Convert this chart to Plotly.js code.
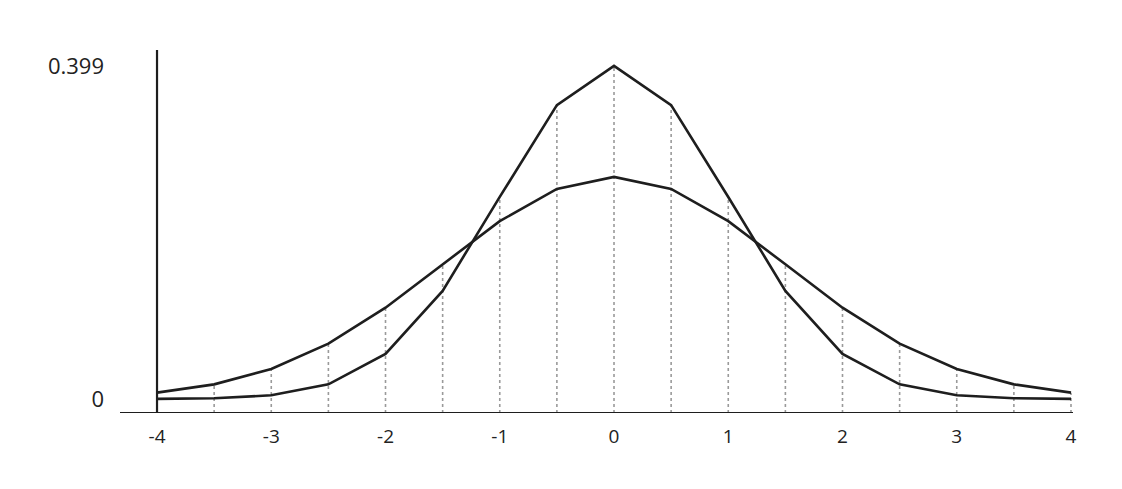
<!DOCTYPE html>
<html>
<head>
<meta charset="utf-8">
<script src="https://cdn.plot.ly/plotly-3.0.1.min.js"></script>
<style>html,body{margin:0;padding:0;background:#fff;}#chart{width:1122px;height:489px;}</style>
</head>
<body>
<div id="chart"></div>
<script>
// x positions (half-unit steps)
const xValues = [-4, -3.5, -3, -2.5, -2, -1.5, -1, -0.5, 0, 0.5, 1, 1.5, 2, 2.5, 3, 3.5, 4];
// narrow curve (peak 0.399)
const narrowValues = [0.0001, 0.0009, 0.0044, 0.0175, 0.054, 0.1295, 0.242, 0.352, 0.399, 0.352, 0.242, 0.1295, 0.054, 0.0175, 0.0044, 0.0009, 0.0001];
// wide curve
const wideValues = [0.0076, 0.0175, 0.036, 0.0663, 0.1093, 0.1613, 0.213, 0.2516, 0.266, 0.2516, 0.213, 0.1613, 0.1093, 0.0663, 0.036, 0.0175, 0.0076];
const xTickVals = [-4, -3, -2, -1, 0, 1, 2, 3, 4];
const xTickText = ['-4', '-3', '-2', '-1', '0', '1', '2', '3', '4'];
const yTickVals = [0, 0.399];
const yTickText = ['0', '0.399'];

const yMin = -0.0168, yMax = 0.418;

// dotted guides from the axis up to the higher of the two curves
const gx = [], gy = [];
xValues.forEach((x, i) => {
  gx.push(x, x, null);
  gy.push(yMin, Math.max(narrowValues[i], wideValues[i]), null);
});

const traces = [
  {x: gx, y: gy, mode: 'lines', line: {color: '#9a9a9a', width: 1.6, dash: 'dot'}, hoverinfo: 'skip', showlegend: false},
  {x: xValues, y: wideValues, mode: 'lines', line: {color: '#1e1e1e', width: 2.6}, showlegend: false},
  {x: xValues, y: narrowValues, mode: 'lines', line: {color: '#1e1e1e', width: 2.6}, showlegend: false}
];

const layout = {
  width: 1122, height: 489,
  margin: {l: 120, r: 49, t: 50, b: 76},
  paper_bgcolor: '#fff', plot_bgcolor: '#fff',
  font: {family: 'Open Sans, sans-serif', size: 18, color: '#222'},
  xaxis: {
    range: [-4.324, 4.0175], showgrid: false, zeroline: false, showline: false,
    tickvals: xTickVals, ticktext: xTickText, ticks: '', ticklabelstandoff: 10,
    tickfont: {family: 'Open Sans, sans-serif', size: 19, color: '#222'}
  },
  yaxis: {
    range: [yMin, yMax], showgrid: false, zeroline: false, showline: false,
    tickvals: yTickVals, ticktext: yTickText, ticks: '', ticklabelstandoff: 15,
    tickfont: {family: 'Open Sans, sans-serif', size: 22, color: '#222'}
  },
  shapes: [
    {type: 'line', xref: 'paper', yref: 'y', x0: 0, x1: 1, y0: yMin, y1: yMin, line: {color: '#1e1e1e', width: 2}},
    {type: 'line', xref: 'x', yref: 'paper', x0: -4, x1: -4, y0: 0, y1: 1, line: {color: '#1e1e1e', width: 2.2}}
  ]
};

Plotly.newPlot('chart', traces, layout, {displayModeBar: false, staticPlot: true});
</script>
</body>
</html>
